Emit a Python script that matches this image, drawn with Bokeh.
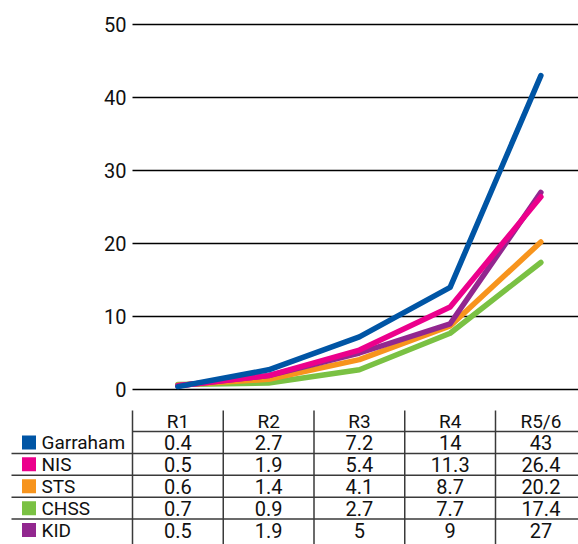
from bokeh.plotting import figure
from bokeh.models import Range1d
from bokeh.core.properties import value
from bokeh.embed import file_html
from bokeh.resources import INLINE

# ---- data ----
rounds = ["R1", "R2", "R3", "R4", "R5/6"]
series_names = ["Garraham", "NIS", "STS", "CHSS", "KID"]
garraham = [0.4, 2.7, 7.2, 14, 43]
nis = [0.5, 1.9, 5.4, 11.3, 26.4]
sts = [0.6, 1.4, 4.1, 8.7, 20.2]
chss = [0.7, 0.9, 2.7, 7.7, 17.4]
kid = [0.5, 1.9, 5, 9, 27]
y_ticks = [0, 10, 20, 30, 40, 50]

colors = {
    "Garraham": "#0055a5",
    "NIS": "#ec008c",
    "STS": "#f7941d",
    "CHSS": "#7ac143",
    "KID": "#92278f",
}
values = {"Garraham": garraham, "NIS": nis, "STS": sts, "CHSS": chss, "KID": kid}

FONT = value("Roboto")
TXT = "#111111"
W, H = 578, 544
LEFT = 132          # left edge of plot area / table columns (px)
COL_W = 90.75       # column width (px)
PX_PER_UNIT = 7.3   # chart px per value unit
Y0_PX = 389         # chart zero line (px from top)
ROW_H = 21.9        # table row height (px)
HEAD_PX = 431       # table header bottom line (px from top)

x_left = -0.5 - LEFT / COL_W
x_right = (W - LEFT) / COL_W - 0.5
p = figure(width=W, height=H, output_backend="svg", toolbar_location=None,
           min_border_left=0, min_border_right=0, min_border_top=0, min_border_bottom=0,
           x_range=Range1d(x_left, x_right),
           y_range=Range1d(-(H - Y0_PX) / PX_PER_UNIT, Y0_PX / PX_PER_UNIT))
p.extra_y_ranges = {"table": Range1d((H - HEAD_PX) / ROW_H, -HEAD_PX / ROW_H)}
p.outline_line_color = None
p.axis.visible = False
p.grid.visible = False

x_idx = list(range(len(rounds)))

# ---- chart: gridlines + tick labels ----
p.segment(x0=[-0.5] * len(y_ticks), y0=y_ticks, x1=[x_right] * len(y_ticks), y1=y_ticks,
          line_color="black", line_width=1.5)
p.text(x=[-0.5 - 6 / COL_W] * len(y_ticks), y=y_ticks, text=[str(t) for t in y_ticks],
       text_font=FONT, text_font_size="20px", text_align="right",
       text_baseline="middle", text_color=TXT)

for name in ["CHSS", "STS", "KID", "NIS", "Garraham"]:
    p.line(x_idx, values[name], line_color=colors[name], line_width=5.5,
           line_cap="round", line_join="round")

# ---- table ----
line_col = "#3a3a3a"
t_top = -(HEAD_PX - 410) / ROW_H
t_bot = (H - HEAD_PX) / ROW_H
n = len(rounds)
p.segment(x0=[i - 0.5 for i in x_idx], y0=[t_top] * n, x1=[i - 0.5 for i in x_idx], y1=[t_bot] * n,
          line_color=line_col, line_width=1.5, y_range_name="table")
p.segment(x0=[-0.5], y0=[0], x1=[x_right], y1=[0],
          line_color=line_col, line_width=1.5, y_range_name="table")
x_label_left = -0.5 - (LEFT - 11) / COL_W
rows = list(range(1, len(series_names)))
p.segment(x0=[x_label_left] * len(rows), y0=rows, x1=[x_right] * len(rows), y1=rows,
          line_color=line_col, line_width=1.5, y_range_name="table")

p.text(x=x_idx, y=[-(HEAD_PX - 421) / ROW_H] * n, text=rounds,
       text_font=FONT, text_font_size="19px", text_align="center",
       text_baseline="middle", text_color=TXT, y_range_name="table")

for k, name in enumerate(series_names):
    yc = k + 0.5
    p.rect(x=[-0.5 - (LEFT - 28.5) / COL_W], y=[yc], width=14, height=14,
           width_units="screen", height_units="screen",
           fill_color=colors[name], line_color=None, y_range_name="table")
    p.text(x=[-0.5 - (LEFT - 41) / COL_W], y=[yc], text=[name],
           text_font=FONT, text_font_size="19px", text_align="left",
           text_baseline="middle", text_color=TXT, y_range_name="table")
    p.text(x=x_idx, y=[yc] * n, text=[f"{v:g}" for v in values[name]],
           text_font=FONT, text_font_size="20px", text_align="center",
           text_baseline="middle", text_color=TXT, y_range_name="table")

open("out.html", "w").write(file_html(p, INLINE))
